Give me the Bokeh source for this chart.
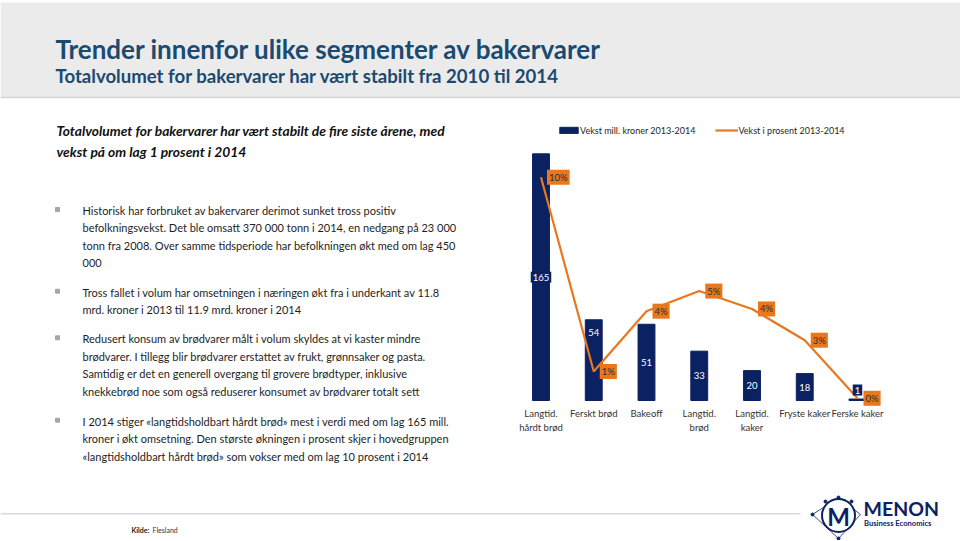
from bokeh.plotting import figure
from bokeh.models import Range1d, ColumnDataSource, Legend, LegendItem
from bokeh.embed import file_html
from bokeh.resources import INLINE
from bokeh.core.properties import value

# ---------------- data ----------------
categories = ["Langtid.\nhårdt brød", "Ferskt brød", "Bakeoff", "Langtid.\nbrød",
              "Langtid.\nkaker", "Fryste kaker", "Ferske kaker"]
vekst_mill = [165, 54, 51, 33, 20, 18, 1]          # Vekst mill. kroner 2013-2014
vekst_pct = [10.0, 1.3, 4.0, 4.9, 4.1, 2.7, 0.1]    # Vekst i prosent 2013-2014
bar_label_place = ["center", "inside_end", "center", "center", "center", "center", "outside_end"]

legend_labels = ["Vekst mill. kroner 2013-2014", "Vekst i prosent 2013-2014"]

title_text = "Trender innenfor ulike segmenter av bakervarer"
subtitle_text = "Totalvolumet for bakervarer har vært stabilt fra 2010 til 2014"
lead_lines = ["Totalvolumet for bakervarer har vært stabilt de fire siste årene, med",
              "vekst på om lag 1 prosent i 2014"]
bullets = [
    ["Historisk har forbruket av bakervarer derimot sunket tross positiv",
     "befolkningsvekst. Det ble omsatt 370 000 tonn i 2014, en nedgang på 23 000",
     "tonn fra 2008. Over samme tidsperiode har befolkningen økt med om lag 450",
     "000"],
    ["Tross fallet i volum har omsetningen i næringen økt fra i underkant av 11.8",
     "mrd. kroner i 2013 til 11.9 mrd. kroner i 2014"],
    ["Redusert konsum av brødvarer målt i volum skyldes at vi kaster mindre",
     "brødvarer. I tillegg blir brødvarer erstattet av frukt, grønnsaker og pasta.",
     "Samtidig er det en generell overgang til grovere brødtyper, inklusive",
     "knekkebrød noe som også reduserer konsumet av brødvarer totalt sett"],
    ["I 2014 stiger «langtidsholdbart hårdt brød» mest i verdi med om lag 165 mill.",
     "kroner i økt omsetning. Den største økningen i prosent skjer i hovedgruppen",
     "«langtidsholdbart hårdt brød» som vokser med om lag 10 prosent i 2014"],
]
source_bold = "Kilde:"
source_rest = "Flesland"

# ---------------- style ----------------
FONT = "Lato"
NAVY = "#0B2262"
ORANGE = "#E8771E"
TITLE_C = "#1A4A70"
TEXT_C = "#1E1E1E"

W, H = 960, 540
# page coordinates: x from 0 to W, y from 0 (top) to H (bottom)
p = figure(width=W, height=H, x_range=Range1d(0, W), y_range=Range1d(H, 0),
           output_backend="svg", toolbar_location=None, min_border=0,
           x_axis_location=None, y_axis_location=None)
p.grid.visible = False
p.outline_line_color = None
p.background_fill_color = "white"
p.border_fill_color = "white"

# chart scales (layout of the chart region)
bar0_px, bar_step_px = 540.5, 52.75
base_px, px_per_mill, px_per_pct = 400.0, 1.495, 22.33
p.extra_x_ranges = {"bx": Range1d((0 - bar0_px) / bar_step_px, (W - bar0_px) / bar_step_px)}
p.extra_y_ranges = {
    "by": Range1d((base_px - H) / px_per_mill, base_px / px_per_mill),
    "py": Range1d((base_px - H) / px_per_pct, base_px / px_per_pct),
}


def txt(x, y, s, size, style="normal", color=TEXT_C, align="left", font=FONT):
    p.text(x=[x], y=[y], text=[s], text_font=value(font), text_font_size=f"{size}px",
           text_font_style=style, text_color=color, text_align=align, text_baseline="middle")


# header band
p.quad(left=[0], right=[W], top=[2], bottom=[97], fill_color="#EBEBEB", line_color=None)
p.segment(x0=[0], x1=[W], y0=[97], y1=[97], line_color="#D4D4D4", line_width=1.5)
txt(55, 48, title_text, 26, "bold", TITLE_C)
txt(55, 75, subtitle_text, 18.6, "bold", TITLE_C)

# left text column
txt(56, 130, lead_lines[0], 13.8, "bold italic", "#111111")
txt(56, 151, lead_lines[1], 13.8, "bold italic", "#111111")
para_top = [210, 291.7, 338.3, 420.7]
line_step = 17.4
for top, lines in zip(para_top, bullets):
    p.scatter(x=[57], y=[top - 1], marker="square", size=4, color="#A6A6A6")
    for k, line in enumerate(lines):
        txt(82, top + k * line_step, line, 11)

# bars and line
idx = list(range(len(categories)))
src = ColumnDataSource(dict(x=idx, cat=categories, mill=vekst_mill, pct=vekst_pct,
                            pct_lbl=[f"{round(v)}%" for v in vekst_pct]))
bars = p.vbar(x="x", top="mill", bottom=0, width=0.32, source=src,
              x_range_name="bx", y_range_name="by", fill_color=NAVY, line_color=NAVY)
ln = p.line(x="x", y="pct", source=src, x_range_name="bx", y_range_name="py",
            line_color=ORANGE, line_width=2.2)

# bar value labels (text glyph offsets: +y is downward on screen)
place_offsets = {"center": 0, "inside_end": 13, "outside_end": -9}
for place, off in place_offsets.items():
    sel = [i for i in idx if bar_label_place[i] == place]
    if not sel:
        continue
    s = ColumnDataSource(dict(
        x=[idx[i] for i in sel],
        y=[vekst_mill[i] / 2 if place == "center" else vekst_mill[i] for i in sel],
        t=[str(vekst_mill[i]) for i in sel]))
    p.text(x="x", y="y", text="t", source=s, x_range_name="bx", y_range_name="by",
           y_offset=off, text_align="center", text_baseline="middle",
           text_font=value(FONT), text_font_size="9.5px", text_color="white",
           background_fill_color=NAVY, padding=2)

# percent labels
p.text(x="x", y="pct", text="pct_lbl", source=src, x_range_name="bx", y_range_name="py",
       x_offset=6, text_align="left", text_baseline="middle",
       text_font=value(FONT), text_font_size="9.5px", text_color="#2E2E2E",
       background_fill_color=ORANGE, padding=2)

# category labels
p.text(x="x", y=0, text="cat", source=src, x_range_name="bx", y_range_name="by",
       y_offset=7, text_align="center", text_baseline="top", text_font=value(FONT),
       text_font_size="9.5px", text_color="#333333", text_line_height=1.3)

# legend
legend = Legend(items=[LegendItem(label=legend_labels[0], renderers=[bars]),
                       LegendItem(label=legend_labels[1], renderers=[ln])],
                orientation="horizontal", location=(557, H - 123 - 14),
                glyph_width=23, glyph_height=8, label_height=14, label_standoff=0,
                spacing=20, padding=0, margin=0, border_line_color=None,
                background_fill_alpha=0, label_text_font=FONT, label_text_font_size="9px",
                label_text_color="#262626")
p.add_layout(legend)

# footer
p.segment(x0=[0], x1=[800], y0=[513.3], y1=[513.3], line_color="#D9D9D9", line_width=1.5)
txt(131, 529, source_bold, 7, "bold", "#222222")
txt(152, 529, source_rest, 7, "normal", "#333333")

# logo
p.patch(x=[812, 838, 860, 838], y=[514, 497, 514, 538], fill_color=None, line_color=NAVY, line_width=0.8)
p.scatter(x=[812, 838, 838, 825, 851], y=[514, 497, 538, 501, 501], size=3, color=NAVY)
p.scatter(x=[838], y=[515], marker="circle", size=33, fill_color="white", line_color=NAVY, line_width=2)
txt(838, 516, "M", 24, "bold", NAVY, "center")
txt(863, 507.5, "MENON", 19.5, "bold", NAVY)
txt(863.5, 522.5, "Business Economics", 7.6, "bold", NAVY)

open("out.html", "w").write(file_html(p, INLINE))
